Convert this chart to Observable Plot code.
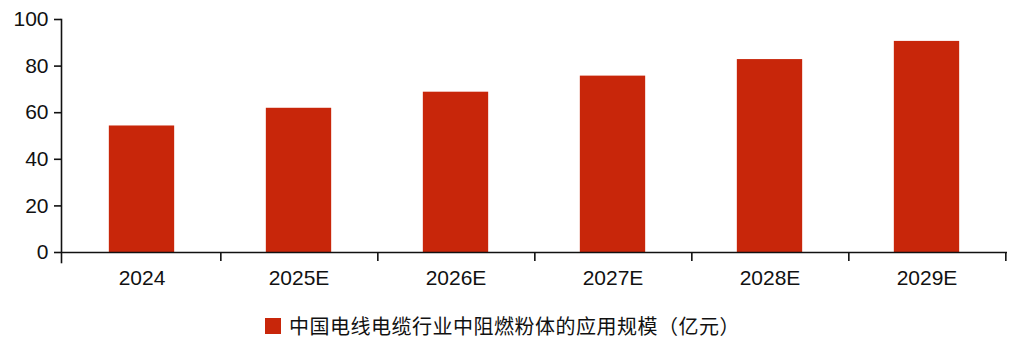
<!DOCTYPE html>
<html>
<head>
<meta charset="utf-8">
<script src="https://cdn.jsdelivr.net/npm/d3@7"></script>
<script src="https://cdn.jsdelivr.net/npm/@observablehq/plot@0.6"></script>
<style>
  html, body { margin: 0; padding: 0; background: #fff; }
  #chart { width: 1013px; height: 340px; position: relative; font-family: "Liberation Sans", Arial, sans-serif; }
  #legend { position: absolute; left: 0; width: 1013px; top: 315px; height: 22px; display: flex; justify-content: center; align-items: center; padding-right: 8px; box-sizing: border-box; }
  #legend .sw { width: 16px; height: 16px; margin-right: 8px; }
  #legend .lb { font-family: "Noto Sans CJK SC", "Liberation Sans", sans-serif; font-size: 20px; letter-spacing: 0.5px; color: #111; line-height: 20px; }
</style>
</head>
<body>
<div id="chart"></div>
<script>
// 中国电线电缆行业中阻燃粉体的应用规模（亿元）
const years = ["2024", "2025E", "2026E", "2027E", "2028E", "2029E"];
const values = [54.3, 61.9, 68.8, 75.7, 82.8, 90.6];
const yTicks = [0, 20, 40, 60, 80, 100];
const seriesName = "中国电线电缆行业中阻燃粉体的应用规模（亿元）";
const barColor = "#c8260a";

const data = years.map((year, i) => ({year, value: values[i]}));

const W = 1013, H = 300;
const mLeft = 61, mRight = 6, mTop = 19, mBottom = 48;
const step = (W - mLeft - mRight) / years.length;
const barW = 66;

const svg = Plot.plot({
  width: W,
  height: H,
  marginLeft: mLeft,
  marginRight: mRight,
  marginTop: mTop,
  marginBottom: mBottom,
  style: {fontFamily: "'Liberation Sans', Arial, sans-serif", fontSize: "21px", color: "#111", background: "#fff"},
  x: {domain: years, padding: 0, label: null},
  y: {domain: [0, 100], label: null},
  marks: [
    Plot.barY(data, {
      x: "year", y: "value", fill: barColor,
      insetLeft: (step - barW) / 2, insetRight: (step - barW) / 2
    }),
    // y axis: ticks and labels, plus the vertical axis line (extends below the baseline)
    Plot.axisY({ticks: yTicks, tickSize: 7, tickPadding: 6, fontSize: 21, stroke: "#111", strokeWidth: 1.6, color: "#111"}),
    Plot.frame({anchor: "left", insetBottom: -10, stroke: "#111", strokeWidth: 1.6}),
    // x baseline
    Plot.ruleY([0], {stroke: "#111", strokeWidth: 1.6}),
    // category boundary ticks
    Plot.ruleX(years, {x: d => d, dx: step / 2, y1: 0, y2: 0, insetBottom: -9, stroke: "#111", strokeWidth: 1.6}),
    // category labels
    Plot.axisX({tickSize: 0, tickPadding: 18, fontSize: 21, color: "#111"})
  ]
});

document.getElementById("chart").appendChild(svg);

const legend = document.createElement("div");
legend.id = "legend";
legend.innerHTML = `<div class="sw" style="background:${barColor}"></div><div class="lb">${seriesName}</div>`;
document.getElementById("chart").appendChild(legend);
</script>
</body>
</html>
